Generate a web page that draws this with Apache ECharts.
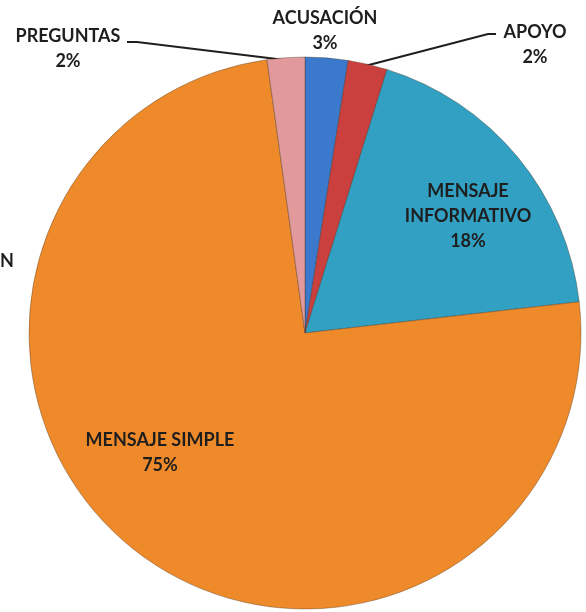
<!DOCTYPE html>
<html>
<head>
<meta charset="utf-8">
<script src="https://cdn.jsdelivr.net/npm/echarts@6/dist/echarts.min.js"></script>
<style>
  html, body { margin: 0; padding: 0; background: #fff; }
  #main { width: 586px; height: 612px; }
</style>
</head>
<body>
<div id="main"></div>
<script>
// categories, clockwise from 12 o'clock
const categories = ['ACUSACIÓN', 'APOYO', 'MENSAJE\nINFORMATIVO', 'MENSAJE SIMPLE', 'PREGUNTAS'];
// shares (labels round to 3, 2, 18, 75, 2)
const values = [2.5, 2.3, 18.4, 74.6, 2.2];
const colors = ['#3b79cc', '#c9403e', '#31a0c2', '#ef8a2b', '#e2999b'];
const inside = [false, false, true, true, false];

// label anchor spots, in px
const labelSpots = [
  { x: 325, y: 31 },
  { x: 535, y: 45 },
  { x: 468, y: 216 },
  { x: 160, y: 453 },
  { x: 68, y: 49 }
];
const leaderLines = {
  1: [[365, 66], [488, 34], [496, 34]],
  4: [[285, 60], [137, 42], [127, 42]]
};

const chart = echarts.init(document.getElementById('main'));

const data = categories.map((name, i) => ({
  name: name,
  value: values[i],
  itemStyle: { color: colors[i] },
  label: { position: inside[i] ? 'inside' : 'outside' },
  labelLine: { show: !!leaderLines[i] }
}));

chart.setOption({
  animation: false,
  graphic: [{
    type: 'text',
    left: 0,
    top: 252,
    style: { text: 'N', font: 'bold 18px Lato', fill: '#1e1e1e' }
  }],
  series: [{
    type: 'pie',
    center: [305, 333],
    radius: 276,
    startAngle: 90,
    clockwise: true,
    percentPrecision: 0,
    itemStyle: { borderColor: 'rgba(60,40,20,0.35)', borderWidth: 1 },
    label: {
      formatter: '{b}\n{d}%',
      fontFamily: 'Lato',
      fontWeight: 'bold',
      fontSize: 18,
      lineHeight: 25,
      color: '#1e1e1e',
      align: 'center'
    },
    labelLine: { lineStyle: { color: '#1e1e1e', width: 2 }, length: 20, length2: 10 },
    labelLayout: function (params) {
      const s = labelSpots[params.dataIndex];
      const out = { x: s.x, y: s.y, align: 'center', verticalAlign: 'middle' };
      if (leaderLines[params.dataIndex]) out.labelLinePoints = leaderLines[params.dataIndex];
      return out;
    },
    data: data
  }]
});
</script>
</body>
</html>
